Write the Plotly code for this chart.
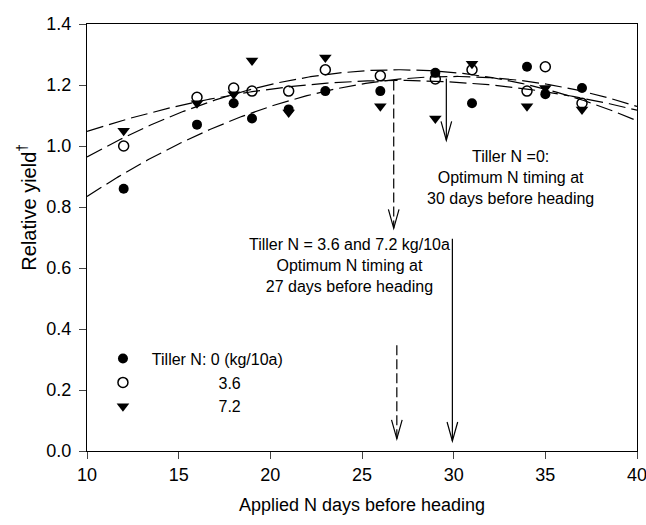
import numpy as np
import plotly.graph_objects as go

# ---------------- data ----------------
days = [12, 16, 18, 19, 21, 23, 26, 29, 31, 34, 35, 37]
yield_n0 = [0.86, 1.07, 1.14, 1.09, 1.12, 1.18, 1.18, 1.24, 1.14, 1.26, 1.17, 1.19]
yield_n36 = [1.00, 1.16, 1.19, 1.18, 1.18, 1.25, 1.23, 1.22, 1.25, 1.18, 1.26, 1.14]
yield_n72 = [1.05, 1.14, 1.17, 1.28, 1.11, 1.29, 1.13, 1.09, 1.27, 1.13, 1.19, 1.12]

# quadratic fits: y = peak - curv * (x - optimum)^2
fit_optimum = [30.0, 27.0, 27.0]
fit_peak = [1.228, 1.250, 1.215]
fit_curv = [0.000983, 0.000990, 0.000578]

series_names = ["\u00a0\u00a0Tiller N: 0 (kg/10a)",
                "\u00a0" * 17 + "3.6",
                "\u00a0" * 17 + "7.2"]

# arrows (x, y_start, y_end, dashed)
arrow_x = [26.73, 26.9, 29.6, 29.93]
arrow_y0 = [1.215, 0.347, 1.221, 0.696]
arrow_y1 = [0.73, 0.04, 1.019, 0.033]
arrow_dashed = [True, True, False, False]

x_ticks = [10, 15, 20, 25, 30, 35, 40]
y_ticks = [0.0, 0.2, 0.4, 0.6, 0.8, 1.0, 1.2, 1.4]

FONT = "Liberation Sans, Arial, sans-serif"

fig = go.Figure()

# fitted curves
xs = np.linspace(10, 40, 301)
for opt, pk, cv in zip(fit_optimum, fit_peak, fit_curv):
    fig.add_trace(go.Scatter(
        x=xs, y=pk - cv * (xs - opt) ** 2, mode="lines",
        line=dict(color="black", width=1.2, dash="17px,6px"),
        showlegend=False, hoverinfo="skip"))

# points
fig.add_trace(go.Scatter(x=days, y=yield_n0, mode="markers", name=series_names[0],
                         marker=dict(symbol="circle", size=10, color="black")))
fig.add_trace(go.Scatter(x=days, y=yield_n36, mode="markers", name=series_names[1],
                         marker=dict(symbol="circle-open", size=10, color="black",
                                     line=dict(width=1.5, color="black"))))
fig.add_trace(go.Scatter(x=days, y=yield_n72, mode="markers", name=series_names[2],
                         marker=dict(symbol="triangle-down", size=11, color="black")))

# arrows
head_dx = 0.29
head_dy = 0.062
shapes = []
for ax_, y0, y1, dashed in zip(arrow_x, arrow_y0, arrow_y1, arrow_dashed):
    shapes.append(dict(type="line", xref="x", yref="y", x0=ax_, x1=ax_, y0=y0, y1=y1,
                       line=dict(color="black", width=1.2,
                                 dash="10px,4px" if dashed else "solid")))
    shapes.append(dict(type="path", xref="x", yref="y",
                       path=f"M {ax_-head_dx},{y1+head_dy} L {ax_},{y1} L {ax_+head_dx},{y1+head_dy}",
                       line=dict(color="black", width=1.2)))

annotations = [
    dict(x=33.1, y=0.897, xref="x", yref="y", showarrow=False,
         text="Tiller N =0:<br>Optimum N timing at<br>30 days before heading",
         font=dict(family=FONT, size=16, color="black"), align="center"),
    dict(x=24.33, y=0.609, xref="x", yref="y", showarrow=False,
         text="Tiller N = 3.6 and 7.2 kg/10a<br>Optimum N timing at<br>27 days before heading",
         font=dict(family=FONT, size=16, color="black"), align="center"),
    # y-axis title
    dict(x=-0.109, y=0.57, xref="paper", yref="paper", showarrow=False,
         xanchor="center", yanchor="middle",
         text="Relative yield<sup>†</sup>", textangle=-90,
         font=dict(family=FONT, size=20, color="black")),
]

fig.update_layout(
    width=646, height=525,
    margin=dict(l=87, r=9, t=24, b=74),
    paper_bgcolor="white", plot_bgcolor="white",
    font=dict(family=FONT, size=18, color="black"),
    shapes=shapes, annotations=annotations,
    legend=dict(x=0.029, y=0.256, xanchor="left", yanchor="top",
                bgcolor="rgba(0,0,0,0)", font=dict(family=FONT, size=16),
                tracegroupgap=0, itemwidth=30),
    showlegend=True,
)
fig.update_xaxes(range=[10, 40], tickvals=x_ticks, ticks="outside", ticklen=7,
                 showline=True, linecolor="black", linewidth=1.2, mirror=True,
                 showgrid=False, zeroline=False, automargin=False,
                 ticklabeloverflow="allow",
                 tickfont=dict(family=FONT, size=18),
                 title=dict(text="Applied N days before heading",
                            font=dict(family=FONT, size=18), standoff=14))
fig.update_yaxes(range=[0, 1.4], tickvals=y_ticks, tickformat=".1f", ticks="outside",
                 ticklen=7, showline=True, linecolor="black", linewidth=1.2, mirror=True,
                 showgrid=False, zeroline=False, automargin=False,
                 ticklabeloverflow="allow", ticklabelstandoff=4,
                 tickfont=dict(family=FONT, size=18))

fig.write_html("out.html", config={"displayModeBar": False},
               post_script="document.body.style.margin='0';document.body.style.padding='0';")
